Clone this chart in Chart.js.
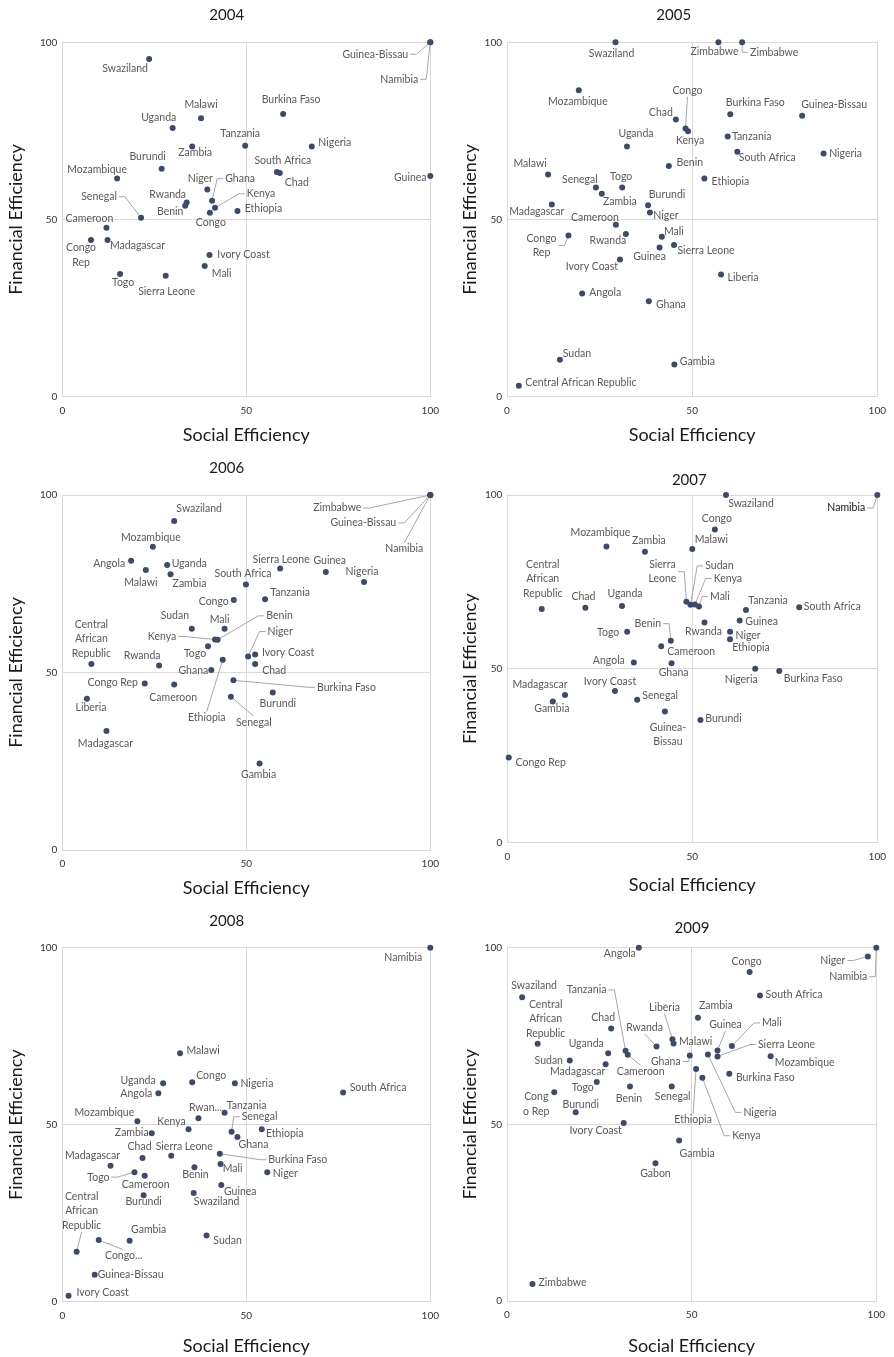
<!DOCTYPE html>
<html>
<head>
<meta charset="utf-8">
<script src="https://cdn.jsdelivr.net/npm/chart.js@4/dist/chart.umd.min.js"></script>
<style>
  html, body { margin: 0; padding: 0; background: #ffffff; }
  #wrap { position: relative; width: 894px; height: 1357px; overflow: hidden; }
  #wrap canvas { position: absolute; }
</style>
</head>
<body>
<div id="wrap"></div>
<script>
// ---------- 2004 ----------
const names2004 = ["Swaziland","Guinea-Bissau","Namibia","Malawi","Uganda","Burkina Faso","Zambia","Tanzania","Nigeria","Burundi","Mozambique","South Africa","Chad","Guinea","Niger","Ghana","Kenya","Rwanda","Benin","Ethiopia","Congo","Senegal","Cameroon","Congo Rep","Madagascar","Ivory Coast","Mali","Togo","Sierra Leone"];
const social2004 = [23.6,100,100,37.7,30.0,60.0,35.3,49.7,67.8,27.0,14.9,58.3,59.1,100,39.4,40.7,41.5,33.8,33.4,47.6,40.1,21.4,12.0,7.8,12.3,40.0,38.7,15.7,28.1];
const financial2004 = [95.3,100,100,78.6,75.8,79.8,70.6,70.8,70.6,64.3,61.6,63.4,63.1,62.3,58.5,55.3,53.3,54.8,53.9,52.4,51.9,50.5,47.7,44.2,44.2,40.0,36.9,34.6,34.1];

// ---------- 2005 ----------
const names2005 = ["Swaziland","Zimbabwe","Zimbabwe","Mozambique","Burkina Faso","Guinea-Bissau","Chad","Congo","Kenya","Tanzania","Uganda","South Africa","Nigeria","Benin","Malawi","Ethiopia","Senegal","Togo","Zambia","Madagascar","Burundi","Niger","Cameroon","Congo Rep","Rwanda","Mali","Guinea","Sierra Leone","Ivory Coast","Liberia","Angola","Ghana","Sudan","Gambia","Central African Republic"];
const social2005 = [29.3,57.1,63.5,19.4,60.3,79.7,45.6,48.2,48.9,59.6,32.4,62.2,85.5,43.7,11.1,53.3,24.0,31.1,25.6,12.1,38.1,38.6,29.4,16.6,32.1,41.8,41.2,45.1,30.5,57.8,20.3,38.3,14.3,45.2,3.2];
const financial2005 = [100,100,100,86.5,79.7,79.3,78.2,75.7,74.9,73.4,70.6,69.1,68.6,65.1,62.7,61.6,59.0,59.0,57.3,54.2,54.0,52.0,48.5,45.5,45.9,45.1,42.1,42.8,38.7,34.5,29.1,26.9,10.4,9.1,3.1];

// ---------- 2006 ----------
const names2006 = ["Zimbabwe","Guinea-Bissau","Namibia","Swaziland","Mozambique","Angola","Uganda","Malawi","Zambia","Sierra Leone","Guinea","Nigeria","South Africa","Congo","Tanzania","Sudan","Mali","Kenya","Benin","Togo","Ethiopia","Niger","Ivory Coast","Chad","Central African Republic","Rwanda","Ghana","Burkina Faso","Congo Rep","Cameroon","Burundi","Senegal","Liberia","Madagascar","Gambia"];
const social2006 = [100,100,100,30.4,24.6,18.7,28.5,22.7,29.4,59.2,71.6,82.0,49.9,46.6,55.1,35.2,44.1,41.5,42.2,39.6,43.6,50.5,52.4,52.4,7.9,26.3,40.5,46.5,22.4,30.4,57.2,45.8,6.7,12.0,53.6];
const financial2006 = [100,100,100,92.7,85.4,81.5,80.3,78.9,77.7,79.3,78.3,75.5,74.8,70.4,70.6,62.3,62.3,59.3,59.2,57.4,53.6,54.5,55.1,52.4,52.4,52.0,50.7,47.8,46.9,46.6,44.4,43.2,42.6,33.5,24.4];

// ---------- 2007 ----------
const names2007 = ["Swaziland","Namibia","Congo","Mozambique","Malawi","Zambia","Sierra Leone","Sudan","Kenya","Mali","Central African Republic","Chad","Uganda","Tanzania","South Africa","Rwanda","Guinea","Togo","Niger","Ethiopia","Benin","Cameroon","Angola","Ghana","Nigeria","Burkina Faso","Madagascar","Gambia","Ivory Coast","Senegal","Guinea-Bissau","Burundi","Congo Rep"];
const social2007 = [59.1,100,56.1,26.8,50.0,37.2,48.4,49.5,50.7,51.8,9.3,21.1,31.0,64.5,78.9,53.3,62.8,32.4,60.2,60.2,44.2,41.6,34.2,44.4,67.0,73.5,15.6,12.3,29.1,35.1,42.6,52.2,0.4];
const financial2007 = [100,100,90.1,85.2,84.5,83.7,69.3,68.4,68.5,67.9,67.2,67.6,68.1,66.9,67.7,63.3,63.9,60.7,60.7,58.5,58.1,56.5,51.8,51.6,50.0,49.4,42.5,40.6,43.6,41.1,37.7,35.3,24.5];

// ---------- 2008 ----------
const names2008 = ["Namibia","Malawi","Uganda","Congo","Nigeria","South Africa","Angola","Rwanda","Tanzania","Mozambique","Kenya","Senegal","Ethiopia","Zambia","Ghana","Chad","Sierra Leone","Burkina Faso","Madagascar","Benin","Mali","Togo","Cameroon","Niger","Guinea","Burundi","Swaziland","Central African Republic","Congo Rep","Gambia","Sudan","Guinea-Bissau","Ivory Coast"];
const social2008 = [100,32.0,27.4,35.3,46.9,76.3,26.1,37.0,44.1,20.4,34.3,46.0,54.2,24.3,47.6,21.8,29.6,42.8,13.1,35.9,43.0,19.6,22.4,55.7,43.2,22.1,35.7,3.9,9.9,18.3,39.2,8.8,1.7];
const financial2008 = [100,70.2,61.7,62.0,61.7,59.1,58.9,51.8,53.4,51.0,48.7,48.0,48.7,47.6,46.5,40.6,41.2,41.8,38.4,38.0,38.9,36.6,35.6,36.6,33.0,30.1,30.7,14.1,17.4,17.2,18.7,7.6,1.7];

// ---------- 2009 ----------
const names2009 = ["Angola","Namibia","Niger","Congo","South Africa","Swaziland","Zambia","Central African Republic","Chad","Liberia","Malawi","Rwanda","Guinea","Mali","Tanzania","Cameroon","Uganda","Ghana","Nigeria","Sierra Leone","Mozambique","Sudan","Madagascar","Ethiopia","Burkina Faso","Kenya","Togo","Benin","Senegal","Congo Rep","Burundi","Ivory Coast","Gambia","Gabon","Zimbabwe"];
const social2009 = [35.7,100,97.7,65.7,68.5,4.1,51.7,8.3,28.2,44.8,45.1,40.5,57.0,60.9,32.1,32.7,27.4,49.5,54.4,57.0,71.4,17.0,26.7,51.2,60.2,52.9,24.3,33.3,44.6,12.8,18.6,31.6,46.6,40.2,6.9];
const financial2009 = [100,100,97.5,93.1,86.5,86.0,80.2,72.8,77.1,74.1,72.9,72.0,70.9,72.2,70.8,69.7,70.1,69.5,69.8,69.2,69.3,68.1,67.0,65.7,64.3,63.2,62.0,60.7,60.7,59.1,53.4,50.4,45.4,39.0,4.8];

const axisTicks = [0, 50, 100];

// Label placement per point: [dx, dy, leaderSide, wrappedLines, colour]
// dx/dy = label centre offset from the point in px; leaderSide = side of the label the
// leader line leaves from ('l','r','t','b'), 0 for none.
const place2004 = [[-24,10],[-55,12,'r'],[-31,37,'r'],[0,-14],[-14,-10],[8,-14],[3,6],[-5,-12],[23,-4],[-14,-12],[-20,-9],[6,-11],[17,10],[-20,2],[-7,-11],[28,-22,'l'],[46,-14,'l'],[-19,-8],[-15,6],[26,-2],[1,10],[-42,-21,'r'],[-17,-9],[-10,15,0,["Congo","Rep"]],[30,6],[34,0],[17,8],[3,9],[1,16]];
const place2005 = [[-4,11],[-4,9],[32,10,'l'],[-1,11],[25,-12],[32,-11],[-15,-7],[2,-38,'b'],[2,9],[24,0],[9,-13],[30,6],[22,0],[21,-3],[-18,-11],[26,3],[-16,-8],[-1,-11],[18,8],[-15,7],[19,-11],[16,3],[-21,-7],[-27,10,'r',["Congo","Rep"]],[-18,7],[12,-5],[-10,9],[32,6],[-28,7],[22,3],[23,-1],[22,3],[17,-6],[23,-3],[62,-3]];
const place2006 = [[-93,13,'r'],[-67,28,'r'],[-26,54,'t'],[25,-12],[-2,-9],[-22,3],[22,-1],[-5,13],[19,9],[1,-9],[4,-11],[-2,-10],[-3,-11],[-20,2],[25,-7],[-17,-13],[-5,-9],[-53,-3,'r'],[62,-24,'l'],[-13,7],[-16,58,'t'],[32,-25,'l'],[33,-2],[19,7],[0,-25,0,["Central","African","Republic"]],[-17,-10],[-18,1],[113,7,'l'],[-32,-1],[-1,13],[5,11],[23,26,'t'],[4,9],[-1,13],[-1,11]];
const place2007 = [[25,9],[-31,13,'r',null,'#111111'],[2,-11],[-6,-14],[19,-9],[4,-11],[-24,-30,'r',["Sierra","Leone"]],[29,-39,'l'],[33,-26,'l'],[21,-10,'l'],[1,-30,0,["Central","African","Republic"]],[-2,-11],[3,-12],[22,-9],[33,-1],[-1,9],[22,1],[-19,1],[18,4],[21,8],[-23,-17,'r'],[30,5],[-25,-2],[2,9],[-14,11],[34,8],[-25,-10],[-1,7],[-5,-9],[23,-4],[3,23,0,["Guinea-","Bissau"]],[23,-1],[32,5]];
const place2008 = [[-27,10],[23,-3],[-25,-3],[19,-7],[22,0],[35,-5],[-22,0],[7,-11,0,["Rwan..."]],[22,-7],[-33,-9],[-17,-8],[28,-15,'l'],[23,4],[-20,-1],[16,8],[-3,-11],[13,-9],[78,6,'l'],[-18,-10],[1,7],[12,5],[-36,5,'r'],[1,9],[18,1],[19,7],[0,6],[23,9],[5,-41,'b',["Central","African","Republic"]],[25,16,'t',["Congo..."]],[19,-11],[21,5],[36,0],[34,-3]];
const place2009 = [[-19,6],[-28,29,'r'],[-35,4,'r'],[-3,-10],[34,-1],[12,-12],[18,-12],[8,-25,0,["Central","African","Republic"]],[-8,-11],[-8,-32,'b'],[22,-2],[-12,-19,'b'],[8,-26,'b'],[40,-23,'l'],[-39,-61,'r'],[13,17,'t'],[-22,-10],[-24,6,'r'],[52,58,'l'],[69,-12,'l'],[34,6],[-21,0],[-28,7],[-3,51,'t'],[36,4],[44,58,'l'],[-14,6],[-1,12],[1,10],[-18,12,0,["Cong","o Rep"]],[5,-8],[-28,8],[18,13],[0,10],[30,-1]];

const FONT = "Lato, 'Noto Sans', sans-serif";
const POINT_COLOR = '#3d4a68';
const LABEL_COLOR = '#595959';
const LEADER_COLOR = '#a6a6a6';
const GRID_COLOR = '#d9d9d9';
const LABEL_FONT = '10.5px ' + FONT;
const LABEL_LINE = 14.6;

// Panel frames (canvas placement and plot rectangle inside each canvas)
const panels = [
  { year: '2004', names: names2004, x: social2004, y: financial2004, place: place2004, left: 0,   top: 0,   pl: 62.3, pr: 430.7, pt: 42.3, pb: 396.7, tx: 226.7, ty: 15,   yx: 16,   xy: 435 },
  { year: '2005', names: names2005, x: social2005, y: financial2005, place: place2005, left: 447, top: 0,   pl: 60,   pr: 434.3, pt: 42.3, pb: 396.7, tx: 226.7, ty: 15,   yx: 22.7, xy: 435 },
  { year: '2006', names: names2006, x: social2006, y: financial2006, place: place2006, left: 0,   top: 450, pl: 62.3, pr: 431.3, pt: 45,   pb: 400,   tx: 226.7, ty: 18.3, yx: 16,   xy: 437.7 },
  { year: '2007', names: names2007, x: social2007, y: financial2007, place: place2007, left: 447, top: 450, pl: 60.3, pr: 434,   pt: 45,   pb: 392.7, tx: 242.3, ty: 30,   yx: 22.7, xy: 435 },
  { year: '2008', names: names2008, x: social2008, y: financial2008, place: place2008, left: 0,   top: 905, pl: 62.3, pr: 431.3, pt: 42.7, pb: 396.7, tx: 226.7, ty: 16,   yx: 16,   xy: 440.7 },
  { year: '2009', names: names2009, x: social2009, y: financial2009, place: place2009, left: 447, top: 905, pl: 60,   pr: 429.3, pt: 42.7, pb: 396,   tx: 245,   ty: 22.7, yx: 22.7, xy: 440.7 }
];
const CW = 447, CH = 452;

function labelGeom(ctx, el, name, p) {
  const lines = p[3] || [name];
  const w = Math.max.apply(null, lines.map(l => ctx.measureText(l).width));
  const h = lines.length * LABEL_LINE;
  return { lines, cx: el.x + p[0], cy: el.y + p[1], w, h };
}

// Draws leader lines, country labels and the year heading
const countryLabels = {
  id: 'countryLabels',
  beforeDatasetsDraw(chart, args, opts) {
    const ctx = chart.ctx;
    const meta = chart.getDatasetMeta(0);
    ctx.save();
    ctx.font = LABEL_FONT;
    ctx.strokeStyle = LEADER_COLOR;
    ctx.lineWidth = 1;
    meta.data.forEach((el, i) => {
      const p = opts.place[i];
      if (!p || !p[2]) return;
      const g = labelGeom(ctx, el, opts.names[i], p);
      const side = p[2];
      ctx.beginPath();
      if (side === 'l' || side === 'r') {
        const dir = side === 'r' ? 1 : -1;
        const sx = g.cx + dir * (g.w / 2 + 2);
        const hx = sx + dir * Math.min(6, Math.abs(el.x - sx));
        ctx.moveTo(sx, g.cy);
        ctx.lineTo(hx, g.cy);
      } else {
        const dir = side === 'b' ? 1 : -1;
        ctx.moveTo(g.cx, g.cy + dir * (g.h / 2 - 1));
      }
      ctx.lineTo(el.x, el.y);
      ctx.stroke();
    });
    ctx.restore();
  },
  afterDatasetsDraw(chart, args, opts) {
    const ctx = chart.ctx;
    const meta = chart.getDatasetMeta(0);
    ctx.save();
    ctx.font = LABEL_FONT;
    ctx.textAlign = 'center';
    ctx.textBaseline = 'middle';
    meta.data.forEach((el, i) => {
      const p = opts.place[i];
      if (!p) return;
      const g = labelGeom(ctx, el, opts.names[i], p);
      ctx.fillStyle = p[4] || LABEL_COLOR;
      const y0 = g.cy - (g.lines.length - 1) * LABEL_LINE / 2;
      g.lines.forEach((l, k) => ctx.fillText(l, g.cx, y0 + k * LABEL_LINE));
    });
    ctx.font = '15px ' + FONT;
    ctx.fillStyle = '#1a1a1a';
    ctx.fillText(opts.year, opts.tx, opts.ty);
    ctx.restore();
  }
};

const wrap = document.getElementById('wrap');

panels.forEach(pn => {
  const cv = document.createElement('canvas');
  cv.width = CW; cv.height = CH;
  cv.style.left = pn.left + 'px';
  cv.style.top = pn.top + 'px';
  cv.style.width = CW + 'px';
  cv.style.height = CH + 'px';
  wrap.appendChild(cv);

  const points = pn.names.map((n, i) => ({ x: pn.x[i], y: pn.y[i] }));
  const titleLH = 18 * 1.2;

  new Chart(cv, {
    type: 'scatter',
    data: {
      datasets: [{
        data: points,
        pointRadius: 3,
        pointHoverRadius: 3,
        pointBorderWidth: 0,
        backgroundColor: POINT_COLOR,
        borderColor: POINT_COLOR,
        clip: false
      }]
    },
    options: {
      responsive: false,
      animation: false,
      devicePixelRatio: 1,
      events: [],
      layout: { padding: { top: pn.pt, right: CW - pn.pr, bottom: 0, left: 0 } },
      plugins: {
        legend: { display: false },
        tooltip: { enabled: false },
        countryLabels: { names: pn.names, place: pn.place, year: pn.year, tx: pn.tx, ty: pn.ty }
      },
      scales: {
        x: {
          type: 'linear', min: 0, max: 100,
          afterBuildTicks: s => { s.ticks = axisTicks.map(v => ({ value: v })); },
          ticks: { font: { family: FONT, size: 10 }, color: '#333333', padding: 8 },
          grid: { color: GRID_COLOR, lineWidth: 1, drawTicks: false },
          border: { color: GRID_COLOR, width: 1 },
          title: { display: true, text: 'Social Efficiency', color: '#1a1a1a',
                   font: { family: FONT, size: 18 },
                   padding: { top: 0, bottom: CH - pn.xy - titleLH / 2 } },
          afterFit: s => { s.height = CH - pn.pb; }
        },
        y: {
          type: 'linear', min: 0, max: 100,
          afterBuildTicks: s => { s.ticks = axisTicks.map(v => ({ value: v })); },
          ticks: { font: { family: FONT, size: 10 }, color: '#333333', padding: 5 },
          grid: { color: GRID_COLOR, lineWidth: 1, drawTicks: false },
          border: { color: GRID_COLOR, width: 1 },
          title: { display: true, text: 'Financial Efficiency', color: '#1a1a1a',
                   font: { family: FONT, size: 18 },
                   padding: { top: pn.yx - titleLH / 2, bottom: 0 } },
          afterFit: s => { s.width = pn.pl; }
        }
      }
    },
    plugins: [countryLabels]
  });
});
</script>
</body>
</html>
